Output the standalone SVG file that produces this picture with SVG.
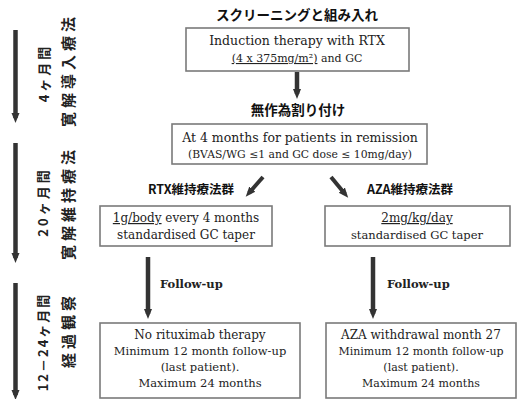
<svg xmlns="http://www.w3.org/2000/svg" width="518" height="399" viewBox="0 0 518 399">
<defs>
<style>
.box{fill:#fff;stroke:#7a7a7a;stroke-width:1.6}
.en{font-family:"DejaVu Serif","Liberation Serif",serif;fill:#222;text-anchor:middle}
.fu{font-family:"DejaVu Serif","Liberation Serif",serif;fill:#222;font-weight:bold;font-size:11.5px}
.jp{font-family:"Noto Sans CJK JP",sans-serif;font-weight:bold;fill:#111;text-anchor:middle}
.side{font-family:"Noto Sans CJK JP",sans-serif;font-weight:bold;fill:#222;text-anchor:middle}
.arr{stroke:#333;stroke-width:4.5;fill:none;marker-end:url(#ah)}
.arrd{stroke:#333;stroke-width:4;fill:none;marker-end:url(#ah)}
</style>
<marker id="ah" markerUnits="userSpaceOnUse" markerWidth="10" markerHeight="10" viewBox="0 0 10 10" refX="5" refY="5" orient="auto">
<path d="M0,1 L10,5 L0,9 Z" fill="#333"/>
</marker>
</defs>

<g id="connectors">
<line class="arr" x1="15.5" y1="30" x2="15.5" y2="118"/>
<line class="arr" x1="15.5" y1="143" x2="15.5" y2="258"/>
<line class="arr" x1="15.5" y1="283" x2="15.5" y2="395"/>
<line class="arr" x1="297" y1="72" x2="297" y2="94"/>
<line class="arrd" x1="263" y1="177" x2="249" y2="193"/>
<line class="arrd" x1="331" y1="177" x2="345" y2="194"/>
<line class="arr" x1="148" y1="257" x2="148" y2="314"/>
<line class="arr" x1="373" y1="257" x2="373" y2="314"/>
</g>

<g id="side-labels">
<text class="side" font-size="13" letter-spacing="3" transform="translate(49,73) rotate(-90)">4ヶ月間</text>
<text class="side" font-size="15" letter-spacing="4" transform="translate(74,70) rotate(-90)">寛解導入療法</text>
<text class="side" font-size="13" letter-spacing="3" transform="translate(48,202) rotate(-90)">20ヶ月間</text>
<text class="side" font-size="15" letter-spacing="4" transform="translate(74,203) rotate(-90)">寛解維持療法</text>
<text class="side" font-size="13" letter-spacing="2" transform="translate(48,342) rotate(-90)">12－24ヶ月間</text>
<text class="side" font-size="15" letter-spacing="4" transform="translate(74,330) rotate(-90)">経過観察</text>
</g>

<g id="title">
<text class="jp" x="297" y="20" font-size="13.5">スクリーニングと組み入れ</text>
</g>

<g id="induction">
<rect class="box" x="186" y="28" width="223" height="43"/>
<text class="en" x="297" y="45" font-size="12.5">Induction therapy with RTX</text>
<text class="en" x="297" y="62" font-size="11"><tspan text-decoration="underline">(4 x 375mg/m²)</tspan> and GC</text>
</g>

<g id="randomisation">
<text class="jp" x="298" y="115" font-size="13.5">無作為割り付け</text>
</g>

<g id="remission">
<rect class="box" x="172" y="124" width="255" height="40"/>
<text class="en" x="300" y="142" font-size="12.5">At 4 months for patients in remission</text>
<text class="en" x="300" y="158" font-size="10.8">(BVAS/WG ≤1 and GC dose ≤ 10mg/day)</text>
</g>

<g id="rtx-label">
<text class="jp" x="191" y="194" font-size="12.5">RTX維持療法群</text>
</g>
<g id="aza-label">
<text class="jp" x="410" y="194" font-size="12.5">AZA維持療法群</text>
</g>

<g id="rtx-maint">
<rect class="box" x="100" y="206" width="172" height="40"/>
<text class="en" x="186" y="222" font-size="12"><tspan text-decoration="underline">1g/body</tspan> every 4 months</text>
<text class="en" x="186" y="239" font-size="12">standardised GC taper</text>
</g>

<g id="aza-maint">
<rect class="box" x="325" y="206" width="185" height="40"/>
<text class="en" x="417" y="222" font-size="12"><tspan text-decoration="underline">2mg/kg/day</tspan></text>
<text class="en" x="417" y="239" font-size="11.5">standardised GC taper</text>
</g>

<g id="followup-labels">
<text class="fu" x="160" y="288">Follow-up</text>
<text class="fu" x="387" y="288">Follow-up</text>
</g>

<g id="rtx-end">
<rect class="box" x="100" y="323" width="200" height="75"/>
<text class="en" x="200" y="339" font-size="12">No rituximab therapy</text>
<text class="en" x="200" y="355" font-size="11.5">Minimum 12 month follow-up</text>
<text class="en" x="200" y="371" font-size="11.5">(last patient).</text>
<text class="en" x="200" y="387" font-size="11.5">Maximum 24 months</text>
</g>

<g id="aza-end">
<rect class="box" x="326" y="323" width="190" height="75"/>
<text class="en" x="421" y="339" font-size="12">AZA withdrawal month 27</text>
<text class="en" x="421" y="355" font-size="11">Minimum 12 month follow-up</text>
<text class="en" x="421" y="371" font-size="11">(last patient).</text>
<text class="en" x="421" y="387" font-size="11">Maximum 24 months</text>
</g>
</svg>
